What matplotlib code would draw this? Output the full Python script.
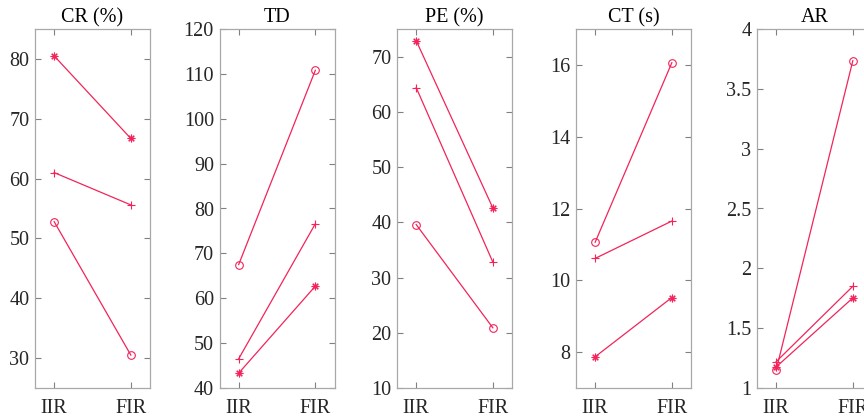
import matplotlib
matplotlib.use("Agg")
import matplotlib.pyplot as plt

plt.rcParams['font.family'] = ['Liberation Serif', 'DejaVu Serif']

categories = ['IIR', 'FIR']
titles = ['CR (%)', 'TD', 'PE (%)', 'CT (s)', 'AR']

# series: circle, plus, asterisk
cr_o = [52.8, 30.5]
cr_p = [61.0, 55.6]
cr_s = [80.5, 66.7]

td_o = [67.5, 110.8]
td_p = [46.5, 76.6]
td_s = [43.3, 62.7]

pe_o = [39.6, 20.9]
pe_p = [64.4, 32.8]
pe_s = [72.9, 42.6]

ct_o = [11.06, 16.06]
ct_p = [10.61, 11.65]
ct_s = [7.87, 9.52]

ar_o = [1.15, 3.735]
ar_p = [1.22, 1.85]
ar_s = [1.176, 1.753]

data = [(cr_o, cr_p, cr_s), (td_o, td_p, td_s), (pe_o, pe_p, pe_s),
        (ct_o, ct_p, ct_s), (ar_o, ar_p, ar_s)]
ylims = [(25, 85), (40, 120), (10, 75), (7, 17), (1, 4)]
yticks = [[30, 40, 50, 60, 70, 80],
          [40, 50, 60, 70, 80, 90, 100, 110, 120],
          [10, 20, 30, 40, 50, 60, 70],
          [8, 10, 12, 14, 16],
          [1, 1.5, 2, 2.5, 3, 3.5, 4]]
yticklabels = [[str(t) for t in yt] for yt in yticks]
yticklabels[4] = ['1', '1.5', '2', '2.5', '3', '3.5', '4']

W, H = 864, 419
fig = plt.figure(figsize=(W / 100, H / 100), dpi=100)
lefts = [35, 219.5, 397, 576, 757]
width = 115
top = 29
bottom = 388
color = '#f2245a'
markers = ['o', '+', (8, 2, 0)]

x = [1, 2]
for i in range(5):
    ax = fig.add_axes([lefts[i] / W, 1 - bottom / H, width / W, (bottom - top) / H])
    for s, m in zip(data[i], markers):
        ax.plot(x, s, color=color, lw=0.9, marker=m,
                markersize={'o': 5.5, '+': 6}.get(m, 5.5) if isinstance(m, str) else 5.5,
                markerfacecolor='none', markeredgecolor=color, markeredgewidth=0.8)
    ax.set_xlim(0.75, 2.25)
    ax.set_ylim(*ylims[i])
    ax.set_xticks(x)
    ax.set_xticklabels(categories)
    ax.set_yticks(yticks[i])
    ax.set_yticklabels(yticklabels[i])
    ax.tick_params(direction='in', length=4, width=0.8, top=True, right=True,
                   colors='#808080', labelcolor='#262626', labelsize=14.5, pad=4)
    ax.tick_params(axis='x', pad=8)
    for sp in ax.spines.values():
        sp.set_color('#a8a8a8')
        sp.set_linewidth(0.9)
    ax.set_title(titles[i], fontsize=14.5, color='black', pad=5)

fig.savefig('out.png', dpi=100)
